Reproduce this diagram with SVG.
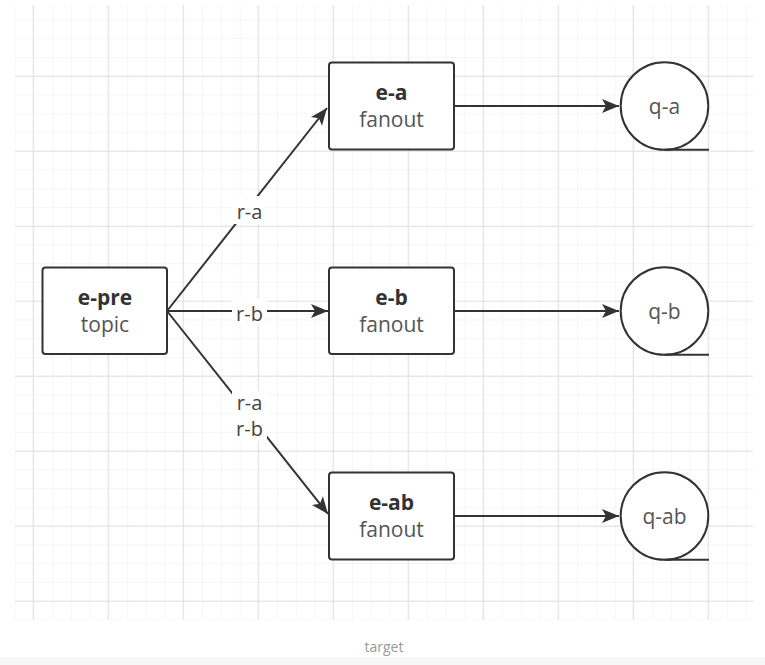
<svg xmlns="http://www.w3.org/2000/svg" width="765" height="665" viewBox="0 0 765 665">
  <defs>
    <pattern id="minor" x="14.6" y="0.7" width="18.75" height="18.75" patternUnits="userSpaceOnUse">
      <path d="M0,0 V18.75 M0,0 H18.75" fill="none" stroke="#ececec" stroke-width="1"/>
    </pattern>
    <pattern id="major" x="32.7" y="0.7" width="75" height="75" patternUnits="userSpaceOnUse">
      <path d="M0.5,0 V75 M0,0.5 H75" fill="none" stroke="#e0e0e0" stroke-width="1"/>
    </pattern>
    <marker id="arr" markerUnits="userSpaceOnUse" markerWidth="20" markerHeight="16" viewBox="-18 -8 20 16" refX="0" refY="0" orient="auto">
      <path d="M0,0 L-17,-7 L-13,0 L-17,7 Z" fill="#333"/>
    </marker>
  </defs>
  <style>
    .box { fill: #fff; stroke: #333; stroke-width: 2; }
    .q { fill: #fff; stroke: #333; stroke-width: 2; }
    .edge { fill: none; stroke: #333; stroke-width: 2; }
    .t1 { font-family: "Open Sans", "Noto Sans", sans-serif; font-size: 21px; font-weight: bold; fill: #333; text-anchor: middle; }
    .t2 { font-family: "Open Sans", "Noto Sans", sans-serif; font-size: 21px; fill: #555; text-anchor: middle; }
    .lbl { font-family: "Open Sans", "Noto Sans", sans-serif; font-size: 20px; fill: #444; text-anchor: middle; }
    .lblbg { fill: #fff; }
  </style>
  <rect x="0" y="0" width="765" height="665" fill="#fff"/>
  <rect x="0" y="657" width="765" height="8" fill="#f6f6f6"/>
  <g id="grid">
    <rect x="15" y="5" width="738" height="615" fill="url(#minor)"/>
    <rect x="15" y="5" width="738" height="615" fill="url(#major)"/>
  </g>

  <g id="connectors">
    <line class="edge" x1="167" y1="311" x2="327" y2="108" marker-end="url(#arr)"/>
    <line class="edge" x1="167" y1="311" x2="328" y2="311" marker-end="url(#arr)"/>
    <line class="edge" x1="167" y1="311" x2="328" y2="514" marker-end="url(#arr)"/>
    <line class="edge" x1="454" y1="106" x2="619" y2="106" marker-end="url(#arr)"/>
    <line class="edge" x1="454" y1="311" x2="619" y2="311" marker-end="url(#arr)"/>
    <line class="edge" x1="454" y1="516" x2="619" y2="516" marker-end="url(#arr)"/>
    <rect class="lblbg" x="233" y="196" width="33" height="28"/>
    <text class="lbl" x="249.5" y="219">r-a</text>
    <rect class="lblbg" x="232" y="299" width="35" height="25"/>
    <text class="lbl" x="249.5" y="321">r-b</text>
    <rect class="lblbg" x="232" y="391" width="35" height="50"/>
    <text class="lbl" x="249.5" y="410">r-a</text>
    <text class="lbl" x="249.5" y="436">r-b</text>
  </g>

  <g id="e-pre">
    <rect class="box" x="42.5" y="267.5" width="124.5" height="86.5" rx="3"/>
    <text class="t1" x="105" y="305">e-pre</text>
    <text class="t2" x="105" y="331.5">topic</text>
  </g>
  <g id="e-a">
    <rect class="box" x="329" y="62.5" width="125" height="87" rx="3"/>
    <text class="t1" x="391.5" y="100">e-a</text>
    <text class="t2" x="391.5" y="126.5">fanout</text>
  </g>
  <g id="e-b">
    <rect class="box" x="329" y="267.5" width="125" height="86.5" rx="3"/>
    <text class="t1" x="391.5" y="305">e-b</text>
    <text class="t2" x="391.5" y="331.5">fanout</text>
  </g>
  <g id="e-ab">
    <rect class="box" x="329" y="472.5" width="125" height="87" rx="3"/>
    <text class="t1" x="391.5" y="510">e-ab</text>
    <text class="t2" x="391.5" y="536.5">fanout</text>
  </g>
  <g id="q-a">
    <circle class="q" cx="664.5" cy="106" r="43.8"/>
    <line class="edge" x1="664.5" y1="149.8" x2="709" y2="149.8"/>
    <text class="t2" x="664.5" y="114">q-a</text>
  </g>
  <g id="q-b">
    <circle class="q" cx="664.5" cy="311" r="43.8"/>
    <line class="edge" x1="664.5" y1="354.8" x2="709" y2="354.8"/>
    <text class="t2" x="664.5" y="319">q-b</text>
  </g>
  <g id="q-ab">
    <circle class="q" cx="664.5" cy="516" r="43.8"/>
    <line class="edge" x1="664.5" y1="559.8" x2="709" y2="559.8"/>
    <text class="t2" x="664.5" y="524">q-ab</text>
  </g>
  <text x="384" y="652" font-family="Open Sans, Noto Sans, sans-serif" font-size="14" fill="#999" text-anchor="middle">target</text>
</svg>
